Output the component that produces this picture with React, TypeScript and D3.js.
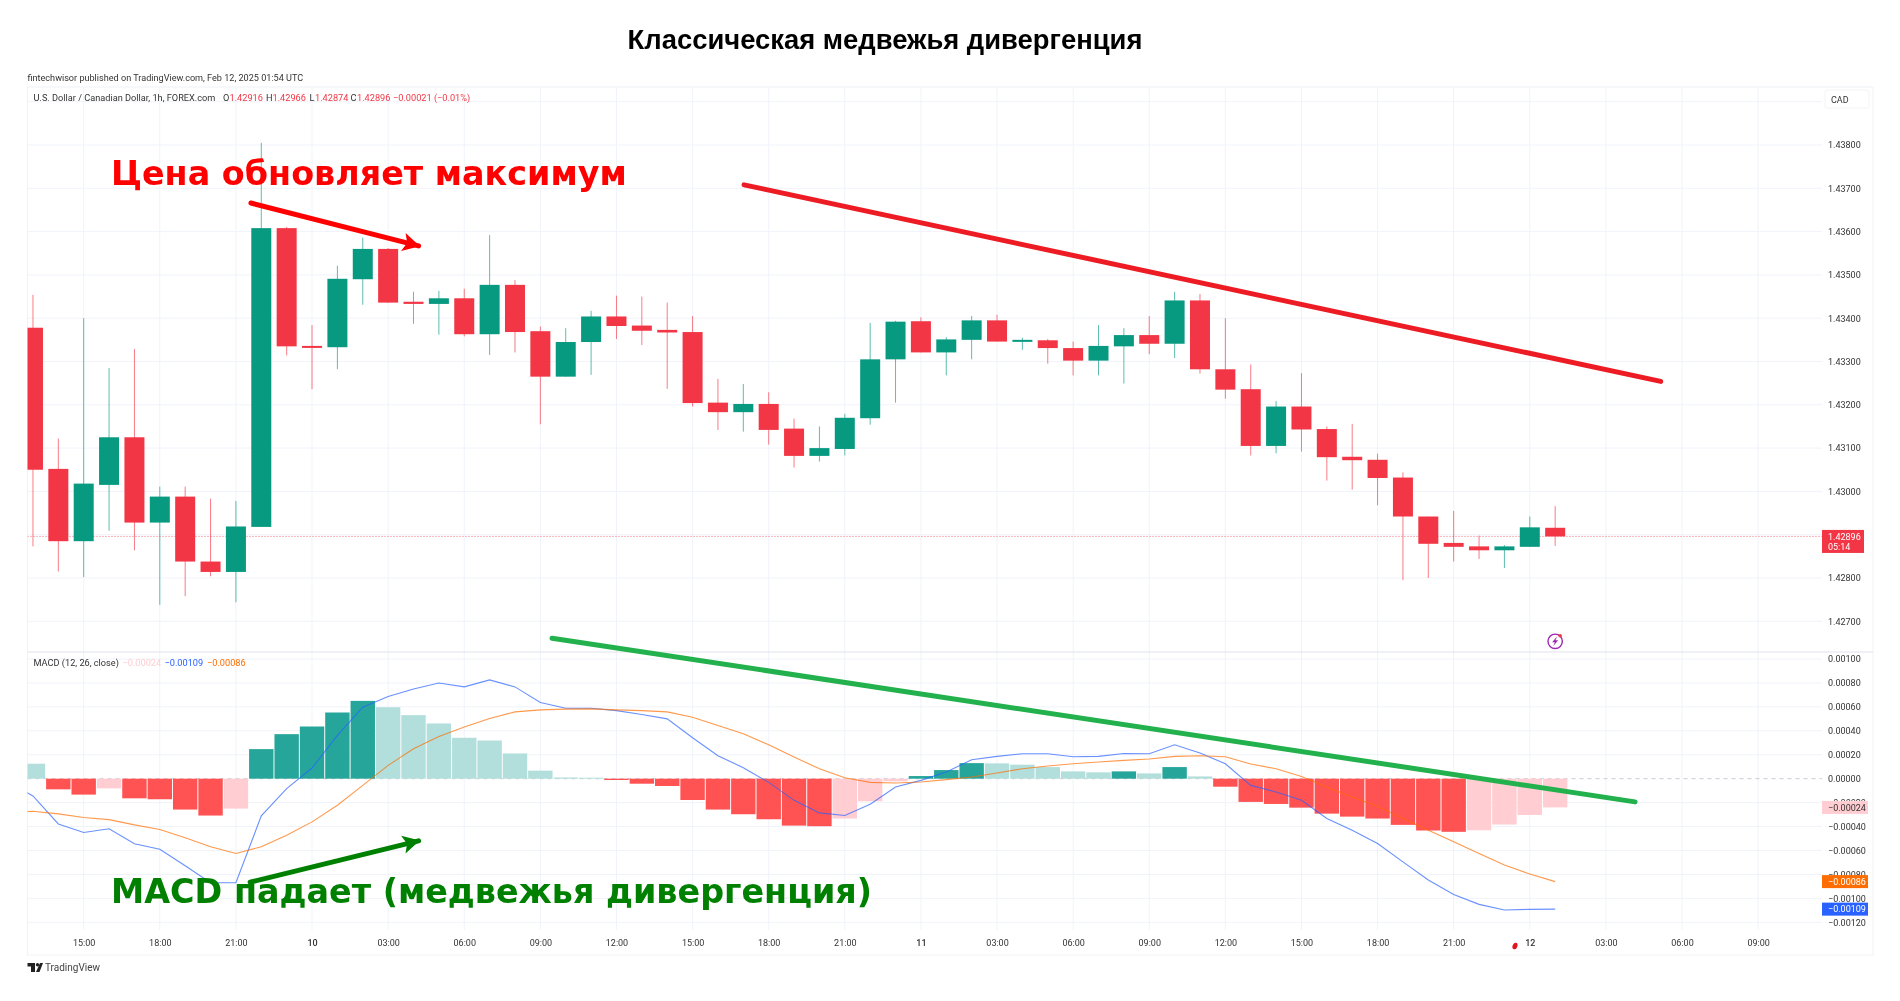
import React, { useEffect, useRef } from "react";
import * as d3 from "d3";

// hours counted from Feb 9 15:00, one candle per hour
const candleHours = d3.range(-2, 59);

const opens = [
  1.43378, 1.43052, 1.42885, 1.43015, 1.43125, 1.42928, 1.42988, 1.42838, 1.42814, 1.42918, 1.43608,
  1.43336, 1.43333, 1.4349, 1.4356, 1.43438, 1.43433, 1.43446, 1.43363, 1.43477, 1.4337, 1.43265,
  1.43345, 1.43404, 1.43383, 1.43373, 1.43368, 1.43205, 1.43183, 1.43202, 1.43145, 1.43082, 1.43098,
  1.43169, 1.43305, 1.43393, 1.43321, 1.4335, 1.43395, 1.43348, 1.43349, 1.43331, 1.43302, 1.43335,
  1.43361, 1.43341, 1.43441, 1.43282, 1.43236, 1.43105, 1.43196, 1.43144, 1.4308, 1.43073, 1.43032,
  1.42942, 1.42881, 1.42873, 1.42864, 1.42872, 1.42916,
];
const highs = [
  1.43454, 1.43122, 1.434, 1.43285, 1.43329, 1.43011, 1.43011, 1.42983, 1.42978, 1.43805, 1.43611,
  1.43384, 1.43521, 1.43586, 1.43562, 1.43461, 1.43463, 1.43468, 1.43592, 1.43488, 1.43381, 1.43377,
  1.43417, 1.43452, 1.4345, 1.43436, 1.43405, 1.4326, 1.43248, 1.43229, 1.43168, 1.4315, 1.43179,
  1.43389, 1.43394, 1.43402, 1.43356, 1.43405, 1.43408, 1.43355, 1.43352, 1.43346, 1.43384, 1.43377,
  1.43405, 1.43461, 1.43456, 1.434, 1.43293, 1.43209, 1.43273, 1.4315, 1.43156, 1.43087, 1.43044,
  1.42942, 1.42955, 1.42898, 1.42876, 1.42942, 1.42966,
];
const lows = [
  1.42873, 1.42815, 1.42802, 1.42909, 1.42864, 1.42738, 1.42758, 1.42804, 1.42744, 1.42918, 1.43314,
  1.43236, 1.43282, 1.43431, 1.43436, 1.43387, 1.43362, 1.43358, 1.43315, 1.43321, 1.43155, 1.43265,
  1.43269, 1.43352, 1.43338, 1.43237, 1.43196, 1.43142, 1.43138, 1.43108, 1.43055, 1.43069, 1.43083,
  1.43154, 1.43205, 1.43321, 1.43268, 1.43305, 1.43346, 1.43327, 1.43295, 1.43268, 1.43268, 1.43249,
  1.43317, 1.43308, 1.43272, 1.43214, 1.43083, 1.43088, 1.43092, 1.43025, 1.43004, 1.42968, 1.42795,
  1.428, 1.42838, 1.42844, 1.42823, 1.42872, 1.42874,
];
const closes = [
  1.4305, 1.42885, 1.43018, 1.43125, 1.42928, 1.42988, 1.42838, 1.42814, 1.42919, 1.43608, 1.43335,
  1.43333, 1.43491, 1.4356, 1.43436, 1.43433, 1.43446, 1.43363, 1.43477, 1.43368, 1.43265, 1.43345,
  1.43404, 1.43382, 1.43371, 1.43367, 1.43204, 1.43183, 1.43202, 1.43142, 1.43082, 1.431, 1.4317,
  1.43305, 1.43392, 1.43321, 1.43351, 1.43395, 1.43346, 1.4335, 1.43331, 1.43302, 1.43336, 1.43361,
  1.43341, 1.43441, 1.43282, 1.43235, 1.43105, 1.43196, 1.43143, 1.43079, 1.43072, 1.43031, 1.42942,
  1.42879, 1.42872, 1.42864, 1.42873, 1.42917, 1.42896,
];

const histogram = [
  0.000125, -0.000089, -0.000133, -0.000081, -0.000164, -0.000172, -0.000258, -0.000308, -0.00025,
  0.000247, 0.000372, 0.000436, 0.000553, 0.00065, 0.000597, 0.000531, 0.000461, 0.000342, 0.000319,
  0.000211, 0.000067, 0.00001, 0.000008, -0.000011, -0.000042, -0.000061, -0.000178, -0.000258,
  -0.000297, -0.000339, -0.000392, -0.000397, -0.000333, -0.000189, -0.000022, 0.000022, 0.000072,
  0.00013, 0.000128, 0.000117, 0.000097, 0.000061, 0.000053, 0.000061, 0.000044, 0.000097, 0.000019,
  -0.000067, -0.000194, -0.000211, -0.000242, -0.000292, -0.000317, -0.000333, -0.000386, -0.000433,
  -0.000444, -0.000431, -0.000383, -0.000303, -0.00024,
];

// the two lines start one hour earlier, behind the left edge of the pane
const lineHours = d3.range(-3, 59);
const macdLine = [
  -0.000028, -0.000144, -0.000378, -0.00045, -0.000419, -0.000544, -0.000589, -0.000728, -0.00087,
  -0.00087, -0.000311, -0.000083, 0.000089, 0.000361, 0.000597, 0.000686, 0.00075, 0.0008, 0.000767,
  0.000825, 0.000767, 0.000636, 0.000589, 0.000589, 0.000569, 0.000536, 0.0005, 0.000342, 0.000192,
  0.000092, -0.000031, -0.000181, -0.000286, -0.000308, -0.000214, -0.000069, -0.000014, 0.000056,
  0.000158, 0.000186, 0.000208, 0.000208, 0.000183, 0.000186, 0.000211, 0.000208, 0.000283, 0.000214,
  0.000125, -0.000056, -0.000111, -0.000181, -0.000333, -0.000431, -0.000542, -0.000695, -0.000847,
  -0.000967, -0.00105, -0.001097, -0.001092, -0.00109,
];
const signalLine = [
  -0.000283, -0.000272, -0.000294, -0.000325, -0.000342, -0.000386, -0.000425, -0.000494, -0.000569,
  -0.000625, -0.000569, -0.000472, -0.000361, -0.000222, -0.000056, 0.000111, 0.00025, 0.000353,
  0.000431, 0.000503, 0.000558, 0.000575, 0.000581, 0.000583, 0.000575, 0.000569, 0.000558, 0.000514,
  0.000444, 0.000375, 0.000283, 0.000181, 0.000083, 0.000008, -0.000031, -0.000036, -0.000028,
  -0.000008, 0.000014, 0.000047, 0.000083, 0.000106, 0.000125, 0.000139, 0.000153, 0.000164, 0.000186,
  0.000192, 0.000183, 0.000122, 0.000083, 0.000019, -0.000069, -0.000153, -0.000231, -0.000333,
  -0.000431, -0.000528, -0.000625, -0.000722, -0.000797, -0.00086,
];

const priceTicks = [1.438, 1.437, 1.436, 1.435, 1.434, 1.433, 1.432, 1.431, 1.43, 1.428, 1.427];
const priceGrid = [1.439, ...priceTicks, 1.429];
const macdTicks = [0.001, 0.0008, 0.0006, 0.0004, 0.0002, 0, -0.0002, -0.0004, -0.0006, -0.0008, -0.001, -0.0012];
const timeTicks = d3.range(0, 67, 3);
const timeLabels = [
  "15:00", "18:00", "21:00", "10", "03:00", "06:00", "09:00", "12:00", "15:00", "18:00", "21:00", "11",
  "03:00", "06:00", "09:00", "12:00", "15:00", "18:00", "21:00", "12", "03:00", "06:00", "09:00",
];

// hand drawn lines, as [hour, value]
const priceTrend = [[26.03, 1.43708], [62.16, 1.43254]];
const macdTrend = [[18.46, 0.001174], [61.15, -0.000194]];
const priceArrow = [[6.59, 1.43666], [13.2, 1.43567]];
const macdArrow = [[6.56, -0.000865], [13.2, -0.00052]];

const lastPrice = 1.42896;

const UI_FONT = "Roboto, 'Liberation Sans', sans-serif";
const NOTE_FONT = "'DejaVu Sans', sans-serif";
const RED = "#F23645";
const GREEN = "#089981";

const App = () => {
  const ref = useRef<SVGSVGElement>(null);

  useEffect(() => {
    document.body.style.margin = "0";
    const width = 1900;
    const height = 1001;
    const paneLeft = 27.5;
    const paneRight = 1822;
    const paneTop = 87;
    const paneSplit = 652;
    const paneBottom = 930;

    const svg = d3.select(ref.current);
    svg.selectAll("*").remove();
    svg.attr("viewBox", [0, 0, width, height]).attr("width", width).attr("height", height);

    const x = d3.scaleLinear().domain([0, 66]).range([83.7, 83.7 + 66 * 25.37]);
    const y = d3.scaleLinear().domain([1.438, 1.427]).range([145, 621.3]);
    const m = d3.scaleLinear().domain([0.001, -0.0012]).range([659, 922.3]);

    const defs = svg.append("defs");
    defs.append("clipPath").attr("id", "pane")
      .append("rect").attr("x", paneLeft).attr("y", paneTop)
      .attr("width", paneRight - paneLeft).attr("height", paneBottom - paneTop);
    [["arrowRed", "#ff0000"], ["arrowGreen", "#008000"]].forEach(([id, colour]) => {
      defs.append("marker").attr("id", id)
        .attr("viewBox", "0 0 16 16").attr("refX", 14).attr("refY", 8)
        .attr("markerUnits", "userSpaceOnUse").attr("markerWidth", 21).attr("markerHeight", 21)
        .attr("orient", "auto")
        .append("path").attr("d", "M2,1 L15,8 L2,15 L5,8 Z").attr("fill", colour);
    });

    svg.append("rect").attr("width", width).attr("height", height).attr("fill", "#fff");

    svg.append("text").attr("x", 885).attr("y", 49).attr("text-anchor", "middle")
      .attr("font-family", "'Liberation Sans', Arial, sans-serif").attr("font-weight", 700)
      .attr("font-size", 27.4).attr("fill", "#000")
      .text("Классическая медвежья дивергенция");

    svg.append("text").attr("x", paneLeft).attr("y", 80.5)
      .attr("font-family", UI_FONT).attr("font-size", 9.1).attr("fill", "#333")
      .text("fintechwisor published on TradingView.com, Feb 12, 2025 01:54 UTC");

    // frame and grid
    svg.append("rect").attr("x", paneLeft).attr("y", paneTop)
      .attr("width", 1873 - paneLeft).attr("height", 955 - paneTop)
      .attr("fill", "none").attr("stroke", "#f0f2f6");

    const grid = svg.append("g").attr("stroke", "#f0f3fa");
    grid.selectAll(".v").data(timeTicks).join("line").attr("class", "v")
      .attr("x1", (d) => x(d)).attr("x2", (d) => x(d))
      .attr("y1", paneTop).attr("y2", paneBottom);
    grid.selectAll(".p").data(priceGrid).join("line").attr("class", "p")
      .attr("x1", paneLeft).attr("x2", paneRight)
      .attr("y1", (d) => y(d)).attr("y2", (d) => y(d));
    grid.selectAll(".m").data(macdTicks.filter((d) => d !== 0)).join("line").attr("class", "m")
      .attr("x1", paneLeft).attr("x2", paneRight)
      .attr("y1", (d) => m(d)).attr("y2", (d) => m(d));

    svg.append("line").attr("x1", paneLeft).attr("x2", 1873).attr("y1", paneSplit).attr("y2", paneSplit)
      .attr("stroke", "#e0e3eb");

    const plot = svg.append("g").attr("clip-path", "url(#pane)");

    // last price and zero lines
    plot.append("line").attr("x1", paneLeft).attr("x2", paneRight)
      .attr("y1", y(lastPrice)).attr("y2", y(lastPrice))
      .attr("stroke", RED).attr("stroke-opacity", 0.7).attr("stroke-dasharray", "1 2");
    plot.append("line").attr("x1", paneLeft).attr("x2", paneRight)
      .attr("y1", m(0)).attr("y2", m(0))
      .attr("stroke", "#c9ccd4").attr("stroke-dasharray", "4 4");

    // candles
    const candles = candleHours.map((hour, i) => ({
      hour, open: opens[i], high: highs[i], low: lows[i], close: closes[i],
    }));
    const bodyWidth = 20;
    const candle = plot.append("g").selectAll("g").data(candles).join("g")
      .attr("fill", (d) => (d.close >= d.open ? GREEN : RED))
      .attr("stroke", (d) => (d.close >= d.open ? GREEN : RED));
    candle.append("line")
      .attr("x1", (d) => x(d.hour)).attr("x2", (d) => x(d.hour))
      .attr("y1", (d) => y(d.high)).attr("y2", (d) => y(d.low))
      .attr("stroke-opacity", 0.65);
    candle.append("rect")
      .attr("x", (d) => x(d.hour) - bodyWidth / 2).attr("width", bodyWidth)
      .attr("y", (d) => y(Math.max(d.open, d.close)))
      .attr("height", (d) => Math.max(2, Math.abs(y(d.open) - y(d.close))))
      .attr("stroke", "none");

    // MACD histogram, colour follows sign and direction
    const histColour = (v: number, i: number) => {
      const rising = i > 0 && v > histogram[i - 1];
      if (v >= 0) return rising ? "#26A69A" : "#B2DFDB";
      return rising ? "#FFCDD2" : "#FF5252";
    };
    const barWidth = 24.4;
    plot.append("g").selectAll("rect").data(histogram).join("rect")
      .attr("x", (_, i) => x(candleHours[i]) - barWidth / 2).attr("width", barWidth)
      .attr("y", (d) => Math.min(m(d), m(0)))
      .attr("height", (d) => Math.abs(m(d) - m(0)))
      .attr("fill", (d, i) => histColour(d, i));

    const line = d3.line<number>().x((_, i) => x(lineHours[i])).y((d) => m(d));
    plot.append("path").attr("d", line(macdLine)).attr("fill", "none")
      .attr("stroke", "#2962FF").attr("stroke-opacity", 0.7).attr("stroke-width", 1.1);
    plot.append("path").attr("d", line(signalLine)).attr("fill", "none")
      .attr("stroke", "#FF6D00").attr("stroke-opacity", 0.7).attr("stroke-width", 1.1);

    // axes
    const axisStyle = (g: any) => {
      g.select(".domain").remove();
      g.selectAll("text").attr("font-family", UI_FONT).attr("font-size", 9).attr("fill", "#333");
    };
    const signed = (f: string) => (d: number) => d3.format(f)(d).replace("-", "−");
    svg.append("g").attr("transform", `translate(${paneRight},0)`)
      .call(d3.axisRight(y).tickValues(priceTicks).tickSize(0).tickPadding(6).tickFormat(signed(".5f")))
      .call(axisStyle);
    svg.append("g").attr("transform", `translate(${paneRight},0)`)
      .call(d3.axisRight(m).tickValues(macdTicks).tickSize(0).tickPadding(6).tickFormat(signed(".5f")))
      .call(axisStyle);
    svg.append("g").attr("transform", `translate(0,${paneBottom})`)
      .call(d3.axisBottom(x).tickValues(timeTicks).tickSize(0).tickPadding(10)
        .tickFormat((_, i) => timeLabels[i]))
      .call(axisStyle)
      .call((g: any) => g.selectAll("text").filter((_: any, i: number) => timeLabels[i].length === 2)
        .attr("font-weight", 500));

    // value tags on the right
    const tags = [
      { value: lastPrice, scale: y, label: "1.42896", sub: "05:14", fill: RED, text: "#fff" },
      { value: histogram[histogram.length - 1], scale: m, label: "−0.00024", fill: "#FFCDD2", text: "#333" },
      { value: signalLine[signalLine.length - 1], scale: m, label: "−0.00086", fill: "#FF6D00", text: "#fff" },
      { value: macdLine[macdLine.length - 1], scale: m, label: "−0.00109", fill: "#2962FF", text: "#fff" },
    ];
    tags.forEach((t) => {
      const cy = t.scale(t.value);
      const g = svg.append("g").attr("font-family", UI_FONT).attr("font-size", 9).attr("fill", t.text);
      if (t.sub) {
        g.append("rect").attr("x", paneRight).attr("y", cy - 6.5).attr("width", 42).attr("height", 23).attr("fill", t.fill);
        g.append("text").attr("x", paneRight + 6).attr("y", cy + 3.2).text(t.label);
        g.append("text").attr("x", paneRight + 6).attr("y", cy + 14).text(t.sub);
      } else {
        g.append("rect").attr("x", paneRight).attr("y", cy - 6.5).attr("width", 46).attr("height", 13).attr("fill", t.fill);
        g.append("text").attr("x", paneRight + 6).attr("y", cy + 3.2).text(t.label);
      }
    });

    // currency box
    svg.append("rect").attr("x", 1825).attr("y", 90).attr("width", 44).attr("height", 18)
      .attr("rx", 2).attr("fill", "#fff").attr("stroke", "#f3f4f7");
    svg.append("text").attr("x", 1831).attr("y", 102.5).attr("font-family", UI_FONT)
      .attr("font-size", 9).attr("fill", "#333").text("CAD");

    // legends
    const legend = svg.append("g").attr("font-family", UI_FONT).attr("font-size", 9.2);
    const legendRow = (row: [number, string, string][], rowY: number) =>
      row.forEach(([tx, colour, str]) => {
        legend.append("text").attr("x", tx).attr("y", rowY).attr("fill", colour).text(str);
      });
    legendRow([
      [33.5, "#333", "U.S. Dollar / Canadian Dollar, 1h, FOREX.com"],
      [223, "#333", "O"], [229.5, RED, "1.42916"],
      [266, "#333", "H"], [272.5, RED, "1.42966"],
      [309.5, "#333", "L"], [315, RED, "1.42874"],
      [350.5, "#333", "C"], [357, RED, "1.42896"],
      [393, RED, "−0.00021 (−0.01%)"],
    ], 101);
    legendRow([
      [33.5, "#333", "MACD (12, 26, close)"],
      [122.5, "#FFCDD2", "−0.00024"],
      [164.5, "#2962FF", "−0.00109"],
      [207, "#FF6D00", "−0.00086"],
    ], 666);

    // hand drawn trend lines and arrows
    const priceXY = d3.line<number[]>().x((d) => x(d[0])).y((d) => y(d[1]));
    const macdXY = d3.line<number[]>().x((d) => x(d[0])).y((d) => m(d[1]));
    svg.append("path").attr("d", priceXY(priceTrend)).attr("fill", "none")
      .attr("stroke", "#ED1C24").attr("stroke-width", 5).attr("stroke-linecap", "round");
    svg.append("path").attr("d", macdXY(macdTrend)).attr("fill", "none")
      .attr("stroke", "#22B14C").attr("stroke-width", 5).attr("stroke-linecap", "round");
    svg.append("path").attr("d", priceXY(priceArrow)).attr("fill", "none")
      .attr("stroke", "#ff0000").attr("stroke-width", 5).attr("stroke-linecap", "round")
      .attr("marker-end", "url(#arrowRed)");
    svg.append("path").attr("d", macdXY(macdArrow)).attr("fill", "none")
      .attr("stroke", "#008000").attr("stroke-width", 5).attr("stroke-linecap", "round")
      .attr("marker-end", "url(#arrowGreen)");

    svg.append("text").attr("x", 111).attr("y", 185).attr("font-family", NOTE_FONT)
      .attr("font-weight", 700).attr("font-size", 33.4).attr("fill", "#ff0000")
      .text("Цена обновляет максимум");
    svg.append("text").attr("x", 111).attr("y", 903).attr("font-family", NOTE_FONT)
      .attr("font-weight", 700).attr("font-size", 33.4).attr("fill", "#008000")
      .text("MACD падает (медвежья дивергенция)");

    // stray red pen mark next to the time axis
    svg.append("ellipse").attr("cx", 1515).attr("cy", 946).attr("rx", 2.4).attr("ry", 3.4)
      .attr("transform", "rotate(20 1515 946)").attr("fill", "#e0141c");

    // alert icon
    const icon = svg.append("g").attr("transform", `translate(${x(58)},${y(1.4267) + 7})`);
    icon.append("circle").attr("r", 7.2).attr("fill", "#fff").attr("stroke", "#9C27B0").attr("stroke-width", 1.4);
    icon.append("path").attr("d", "M2,-5 L-3,1 L-0.3,1 L-2,5 L3,-1 L0.3,-1 Z").attr("fill", "#9C27B0");
    icon.append("circle").attr("cx", 5).attr("cy", -5.6).attr("r", 1.8).attr("fill", "#F23645");

    // TradingView mark
    svg.append("path").attr("d", "M27.5,963 H35 V972 H31 V966.5 H27.5 Z M36,972 L40,963 H43 L39.5,972 Z").attr("fill", "#222");
    svg.append("circle").attr("cx", 37.5).attr("cy", 964.8).attr("r", 1.7).attr("fill", "#222");
    svg.append("text").attr("x", 45).attr("y", 971).attr("font-family", UI_FONT)
      .attr("font-size", 10).attr("fill", "#444").text("TradingView");
  }, []);

  // the reference is a soft, upscaled screenshot
  return <svg ref={ref} style={{ display: "block", filter: "blur(0.4px)" }}></svg>;
};

export default App;
